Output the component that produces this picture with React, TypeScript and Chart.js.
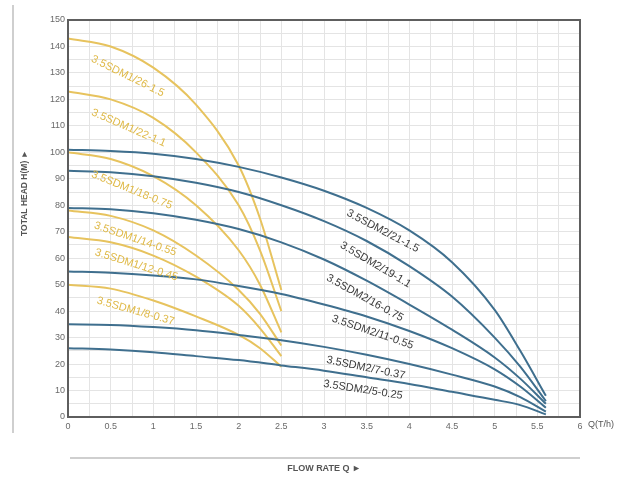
import React, { useEffect, useRef } from "react";
import { Chart, registerables } from "chart.js";

Chart.register(...registerables);

// ---- data ----
const flowSDM1 = [0, 0.5, 1, 1.5, 2, 2.25, 2.5];
const flowSDM2 = [0, 0.5, 1, 1.5, 2, 2.5, 3, 3.5, 4, 4.5, 5, 5.3, 5.6];

const namesSDM1 = [
  "3.5SDM1/26-1.5",
  "3.5SDM1/22-1.1",
  "3.5SDM1/18-0.75",
  "3.5SDM1/14-0.55",
  "3.5SDM1/12-0.45",
  "3.5SDM1/8-0.37",
];
const headSDM1_26 = [143, 140, 132, 118, 95, 75, 48];
const headSDM1_22 = [123, 120, 113, 100, 80, 63, 40];
const headSDM1_18 = [100, 97.5, 91, 80, 63, 50, 32];
const headSDM1_14 = [78, 76, 70.5, 61, 48, 39, 27];
const headSDM1_12 = [68, 66, 61, 53, 42, 33.5, 23];
const headSDM1_8 = [50, 48.5, 44, 38, 31, 26, 19];

const namesSDM2 = [
  "3.5SDM2/21-1.5",
  "3.5SDM2/19-1.1",
  "3.5SDM2/16-0.75",
  "3.5SDM2/11-0.55",
  "3.5SDM2/7-0.37",
  "3.5SDM2/5-0.25",
];
const headSDM2_21 = [101, 100.5, 99.5, 97.5, 94.5, 90.5, 85.5, 79, 70.5, 58.5, 40.5, 25, 8];
const headSDM2_19 = [93, 92.5, 91, 88.5, 85, 80, 74, 66.5, 57, 45.5, 30, 19, 6];
const headSDM2_16 = [79, 78.5, 77, 74.5, 71, 66, 59.5, 51.5, 42.5, 33, 22.5, 14.5, 5];
const headSDM2_11 = [55, 54.5, 53.5, 52, 49.5, 46.5, 42.5, 38, 32.5, 26, 18, 11.5, 3.5];
const headSDM2_7 = [35, 34.8, 34, 32.8, 31, 29, 26.5, 23.5, 20, 16, 11.5, 7.5, 2];
const headSDM2_5 = [26, 25.5, 24.5, 23, 21.5, 19.5, 17.5, 15, 12.5, 9.5, 6.5, 4.5, 1];

const xTickLabelStep = 0.5;
const yTickLabelStep = 10;
const xAxisTitle = "FLOW RATE Q \u25BA";
const yAxisTitle = "TOTAL HEAD H(M) \u25BA";
const xUnit = "Q(T/h)";

// ---- label placement (style) ----
const labelAtSDM1 = [0.8, 0.8, 0.84, 0.84, 0.85, 0.84];
const labelOffSDM1 = [19, 19, 21, 14, 14, 15];
const labelAtSDM2 = [3.76, 3.7, 3.57, 3.62, 3.52, 3.48];
const labelOffSDM2 = [13, 16, 16, 13, 13, 13];

const YELLOW = "#e7c35e";
const YELLOW_TEXT = "#dfb947";
const BLUE = "#3f6f8e";
const BLUE_TEXT = "#3b3b3b";
const FONT = "'Liberation Sans', Arial, sans-serif";

const sdm1Heads = [headSDM1_26, headSDM1_22, headSDM1_18, headSDM1_14, headSDM1_12, headSDM1_8];
const sdm2Heads = [headSDM2_21, headSDM2_19, headSDM2_16, headSDM2_11, headSDM2_7, headSDM2_5];

function interp(xs: number[], ys: number[], q: number) {
  for (let i = 0; i < xs.length - 1; i++) {
    if (q >= xs[i] && q <= xs[i + 1]) {
      const t = (q - xs[i]) / (xs[i + 1] - xs[i]);
      return ys[i] + t * (ys[i + 1] - ys[i]);
    }
  }
  return ys[ys.length - 1];
}

const decorPlugin = {
  id: "decor",
  afterDatasetsDraw(chart: any) {
    const ctx = chart.ctx;
    const xs = chart.scales.x;
    const ys = chart.scales.y;
    const area = chart.chartArea;

    const drawLabel = (flows: number[], heads: number[], q: number, off: number, text: string, color: string) => {
      const p0x = xs.getPixelForValue(q - 0.08);
      const p0y = ys.getPixelForValue(interp(flows, heads, q - 0.08));
      const p1x = xs.getPixelForValue(q + 0.08);
      const p1y = ys.getPixelForValue(interp(flows, heads, q + 0.08));
      const px = xs.getPixelForValue(q);
      const py = ys.getPixelForValue(interp(flows, heads, q));
      const ang = Math.atan2(p1y - p0y, p1x - p0x);
      ctx.save();
      ctx.translate(px, py);
      ctx.rotate(ang);
      ctx.fillStyle = color;
      ctx.font = `11px ${FONT}`;
      ctx.textAlign = "center";
      ctx.textBaseline = "middle";
      ctx.fillText(text, 0, off);
      ctx.restore();
    };

    namesSDM1.forEach((n, i) => drawLabel(flowSDM1, sdm1Heads[i], labelAtSDM1[i], labelOffSDM1[i], n, YELLOW_TEXT));
    namesSDM2.forEach((n, i) => drawLabel(flowSDM2, sdm2Heads[i], labelAtSDM2[i], labelOffSDM2[i], n, BLUE_TEXT));

    // plot frame
    ctx.save();
    ctx.strokeStyle = "#5e5e5e";
    ctx.lineWidth = 2;
    ctx.strokeRect(area.left, area.top, area.right - area.left, area.bottom - area.top);
    ctx.restore();
  },
  afterDraw(chart: any) {
    const ctx = chart.ctx;
    const area = chart.chartArea;
    ctx.save();
    ctx.strokeStyle = "#cfcfcf";
    ctx.lineWidth = 2;
    ctx.beginPath();
    ctx.moveTo(13, 5);
    ctx.lineTo(13, 433);
    ctx.stroke();
    ctx.beginPath();
    ctx.moveTo(70, 458);
    ctx.lineTo(area.right, 458);
    ctx.stroke();

    ctx.fillStyle = "#555";
    ctx.font = `9px ${FONT}`;
    ctx.textAlign = "left";
    ctx.textBaseline = "middle";
    ctx.fillText(xUnit, area.right + 8, area.bottom + 8);

    ctx.font = `bold 9px ${FONT}`;
    ctx.fillStyle = "#555";
    ctx.textAlign = "center";
    ctx.fillText(xAxisTitle, 324, 469);

    ctx.translate(25, 193);
    ctx.rotate(-Math.PI / 2);
    ctx.font = `bold 8.5px ${FONT}`;
    ctx.fillText(yAxisTitle, 0, 0);
    ctx.restore();
  },
};

export default function App() {
  const ref = useRef<HTMLCanvasElement | null>(null);

  useEffect(() => {
    if (!ref.current) return;
    const datasets: any[] = [];
    namesSDM2.forEach((n, i) => {
      datasets.push({
        label: n,
        data: flowSDM2.map((q, j) => ({ x: q, y: sdm2Heads[i][j] })),
        borderColor: BLUE,
        borderWidth: 2,
        pointRadius: 0,
        cubicInterpolationMode: "monotone",
        fill: false,
      });
    });
    namesSDM1.forEach((n, i) => {
      datasets.push({
        label: n,
        data: flowSDM1.map((q, j) => ({ x: q, y: sdm1Heads[i][j] })),
        borderColor: YELLOW,
        borderWidth: 2,
        pointRadius: 0,
        cubicInterpolationMode: "monotone",
        fill: false,
      });
    });

    const chart = new Chart(ref.current, {
      type: "line",
      data: { datasets },
      options: {
        animation: false,
        responsive: true,
        maintainAspectRatio: false,
        devicePixelRatio: 1,
        layout: { padding: { left: 0, right: 48, top: 20, bottom: 0 } },
        plugins: { legend: { display: false }, tooltip: { enabled: false } },
        scales: {
          x: {
            type: "linear",
            min: 0,
            max: 6,
            afterFit: (s: any) => {
              s.height = 60;
            },
            border: { display: false },
            grid: { color: "#e4e4e4", lineWidth: 1, drawTicks: false },
            ticks: {
              stepSize: 0.25,
              autoSkip: false,
              maxRotation: 0,
              padding: 4,
              color: "#6a6a6a",
              font: { size: 9, family: FONT },
              callback: (v: any) => {
                const n = Number(v);
                return Math.abs(n / xTickLabelStep - Math.round(n / xTickLabelStep)) < 1e-6 ? String(n) : "";
              },
            },
          },
          y: {
            type: "linear",
            min: 0,
            max: 150,
            afterFit: (s: any) => {
              s.width = 68;
            },
            border: { display: false },
            grid: { color: "#e4e4e4", lineWidth: 1, drawTicks: false },
            ticks: {
              stepSize: 5,
              autoSkip: false,
              padding: 3,
              color: "#6a6a6a",
              font: { size: 9, family: FONT },
              callback: (v: any) => {
                const n = Number(v);
                return n % yTickLabelStep === 0 ? String(n) : "";
              },
            },
          },
        },
      },
      plugins: [decorPlugin],
    });
    return () => chart.destroy();
  }, []);

  return (
    <div style={{ position: "absolute", left: 0, top: 0, width: 628, height: 477, background: "#fff" }}>
      <canvas ref={ref} />
    </div>
  );
}
